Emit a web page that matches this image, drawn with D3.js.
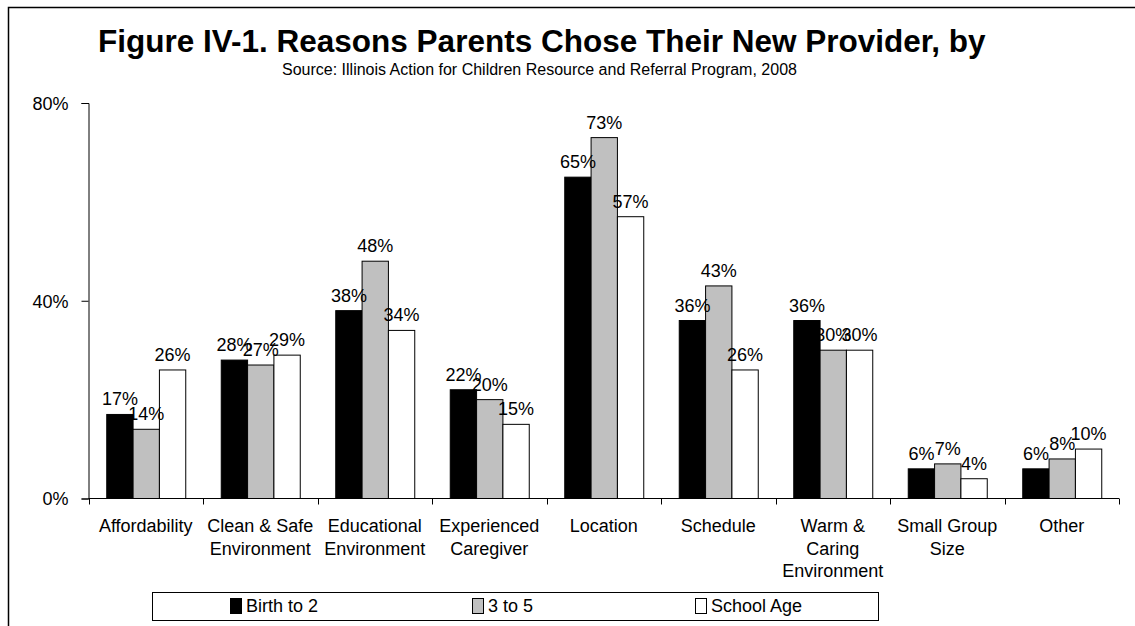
<!DOCTYPE html>
<html>
<head>
<meta charset="utf-8">
<script src="https://cdn.jsdelivr.net/npm/d3@7"></script>
<style>
  body { margin: 0; background: #fff; }
  svg text { font-family: Arial, "Liberation Sans", sans-serif; fill: #000; }
</style>
</head>
<body>
<script>
// data
let categories = ['Affordability', 'Clean & Safe\nEnvironment', 'Educational\nEnvironment',
    'Experienced\nCaregiver', 'Location', 'Schedule', 'Warm &\nCaring\nEnvironment',
    'Small Group\nSize', 'Other']
let seriesNames = ['Birth to 2', '3 to 5', 'School Age']
let birthTo2 = [17, 28, 38, 22, 65, 36, 36, 6, 6]
let threeTo5 = [14, 27, 48, 20, 73, 43, 30, 7, 8]
let schoolAge = [26, 29, 34, 15, 57, 26, 30, 4, 10]
let yTicks = [0, 40, 80]

let seriesColors = ['#000000', '#c0c0c0', '#ffffff']

let svgWidth = 1135
let svgHeight = 626

let svg = d3.select('body').append('svg')
    .attr('width', svgWidth)
    .attr('height', svgHeight)

// chart area outline (right / bottom edges fall outside the picture)
svg.append('path')
    .attr('d', 'M8.5,' + svgHeight + 'V7.5H' + svgWidth)
    .attr('fill', 'none')
    .attr('stroke', '#000')
    .attr('stroke-width', 1.5)

svg.append('text')
    .attr('x', 98).attr('y', 52)
    .style('font-size', '31.5px')
    .style('font-weight', 'bold')
    .text('Figure IV-1. Reasons Parents Chose Their New Provider, by')

svg.append('text')
    .attr('x', 282).attr('y', 75)
    .style('font-size', '16px')
    .text('Source: Illinois Action for Children Resource and Referral Program, 2008')

// plot area
let plot = {left: 88.5, right: 1119, top: 103, bottom: 498.5}

let table = categories.map((c, i) => ({
    category: c,
    values: [birthTo2[i], threeTo5[i], schoolAge[i]]
}))

let x0 = d3.scaleBand()
    .domain(categories)
    .range([plot.left, plot.right])
    .paddingInner(0.31)
    .paddingOuter(0.155)

let x1 = d3.scaleBand()
    .domain(d3.range(seriesNames.length))
    .range([0, x0.bandwidth()])

let y = d3.scaleLinear()
    .domain([0, 80])
    .range([plot.bottom, plot.top])

// y axis
let yAxis = d3.axisLeft(y)
    .tickValues(yTicks)
    .tickSize(7)
    .tickPadding(13)
    .tickFormat(d => d + '%')

let yg = svg.append('g')
    .attr('transform', 'translate(' + plot.left + ',0)')
    .call(yAxis)
yg.select('.domain').attr('stroke', '#000')
yg.selectAll('.tick line').attr('stroke', '#000')
yg.selectAll('.tick text')
    .style('font-size', '18px')
    .attr('font-family', null)
    .attr('dy', '0.35em')

// bars
let groups = svg.selectAll('.group')
    .data(table)
    .join('g')
    .attr('class', 'group')
    .attr('transform', d => 'translate(' + x0(d.category) + ',0)')

groups.selectAll('rect')
    .data(d => d.values)
    .join('rect')
    .attr('x', (d, i) => x1(i) + 0.5)
    .attr('width', x1.bandwidth())
    .attr('y', d => y(d))
    .attr('height', d => y(0) - y(d))
    .attr('fill', (d, i) => seriesColors[i])
    .attr('stroke', '#000')
    .attr('stroke-width', 1)

// value labels, centred over each bar like the original (they overlap there too)
groups.selectAll('.value-label')
    .data(d => d.values)
    .join('text')
    .attr('class', 'value-label')
    .attr('x', (d, i) => x1(i) + x1.bandwidth() / 2 + 0.5)
    .attr('y', d => y(d) - 9)
    .attr('text-anchor', 'middle')
    .style('font-size', '18px')
    .text(d => d + '%')

// x axis: ticks sit on category boundaries
let step = (plot.right - plot.left) / categories.length
let xg = svg.append('g')
xg.append('line')
    .attr('x1', plot.left).attr('x2', plot.right)
    .attr('y1', plot.bottom).attr('y2', plot.bottom)
    .attr('stroke', '#000')
xg.selectAll('.xtick')
    .data(d3.range(categories.length + 1))
    .join('line')
    .attr('class', 'xtick')
    .attr('x1', i => Math.round(plot.left + i * step) + 0.5)
    .attr('x2', i => Math.round(plot.left + i * step) + 0.5)
    .attr('y1', plot.bottom)
    .attr('y2', plot.bottom + 6)
    .attr('stroke', '#000')

let catLabels = xg.selectAll('.cat-label')
    .data(categories)
    .join('text')
    .attr('class', 'cat-label')
    .attr('text-anchor', 'middle')
    .style('font-size', '18px')
    .attr('transform', d => 'translate(' + (x0(d) + x0.bandwidth() / 2) + ',532)')

catLabels.selectAll('tspan')
    .data(d => d.split('\n'))
    .join('tspan')
    .attr('x', 0)
    .attr('y', (d, i) => i * 22.7)
    .text(d => d)

// legend
let legend = svg.append('g')
legend.append('rect')
    .attr('x', 152.5).attr('y', 592.5)
    .attr('width', 726).attr('height', 28)
    .attr('fill', '#fff')
    .attr('stroke', '#000')

let legendX = [230, 472, 695]
let items = legend.selectAll('.legend-item')
    .data(seriesNames)
    .join('g')
    .attr('class', 'legend-item')
    .attr('transform', (d, i) => 'translate(' + legendX[i] + ',0)')

items.append('rect')
    .attr('x', 0.5).attr('y', 598.5)
    .attr('width', 11).attr('height', 15)
    .attr('fill', (d, i) => seriesColors[i])
    .attr('stroke', '#000')

items.append('text')
    .attr('x', 16).attr('y', 612)
    .style('font-size', '18px')
    .text(d => d)
</script>
</body>
</html>
